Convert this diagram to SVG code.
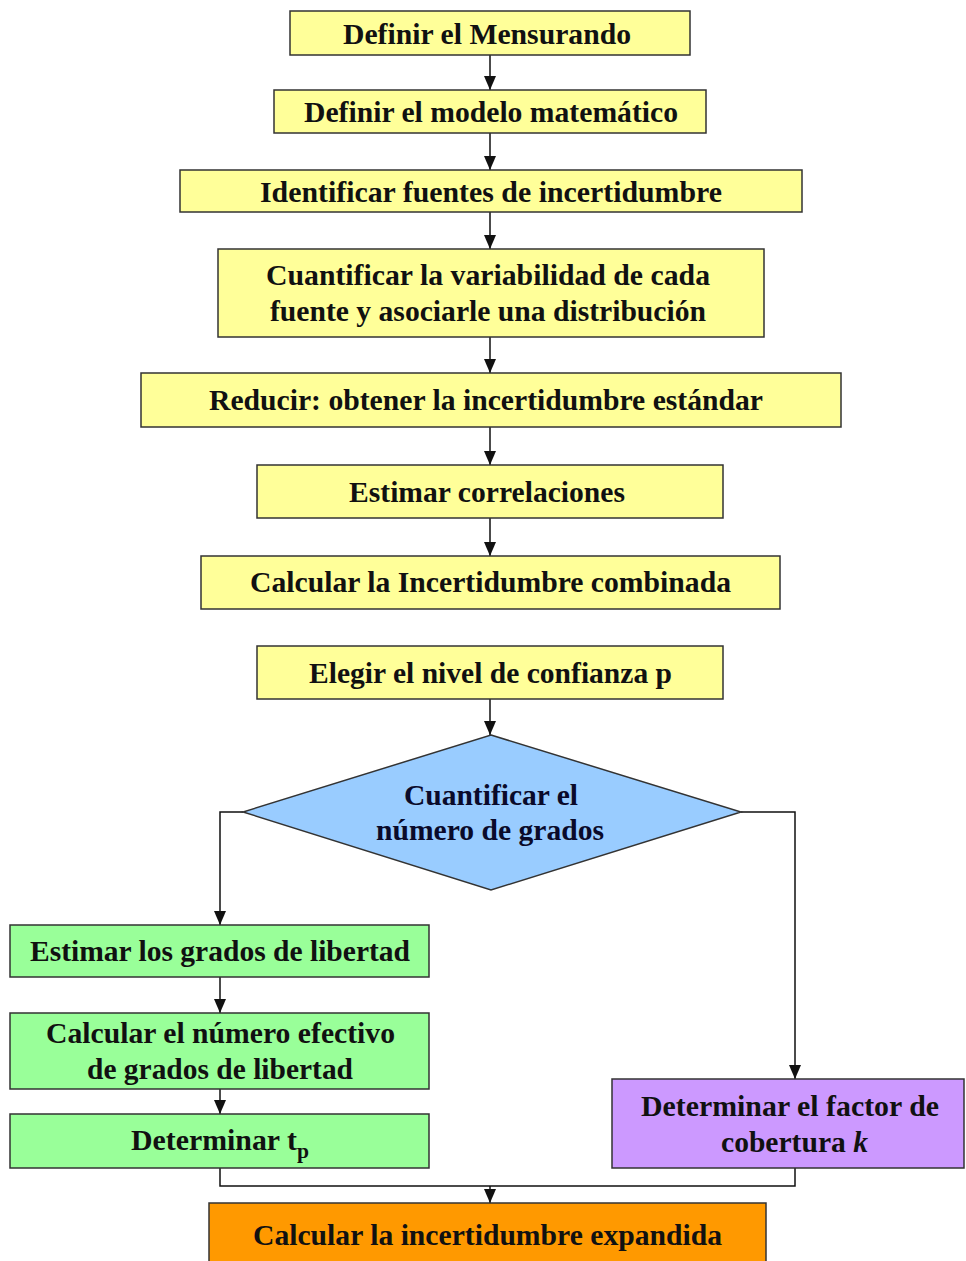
<svg xmlns="http://www.w3.org/2000/svg" width="966" height="1261" viewBox="0 0 966 1261">
<defs>
<marker id="ah" viewBox="0 0 14 12" refX="14" refY="6" markerWidth="14" markerHeight="12" orient="auto" markerUnits="userSpaceOnUse">
<path d="M0,0 L14,6 L0,12 Z" fill="#111"/>
</marker>
<style>
.box{stroke:#333;stroke-width:1.5}
.y{fill:#FFFF99}
.g{fill:#99FF99}
.b{fill:#99CCFF}
.p{fill:#CC99FF}
.o{fill:#FF9900}
.t{font-family:"Liberation Serif","Times New Roman",serif;font-weight:bold;font-size:29px;fill:#111}
.c{fill:none;stroke:#111;stroke-width:1.5}
</style>
</defs>
<rect width="966" height="1261" fill="#fff"/>
<g id="connectors">
<path class="c" d="M490,55 V90" marker-end="url(#ah)"/>
<path class="c" d="M490,133 V170" marker-end="url(#ah)"/>
<path class="c" d="M490,212 V249" marker-end="url(#ah)"/>
<path class="c" d="M490,337 V373" marker-end="url(#ah)"/>
<path class="c" d="M490,427 V465" marker-end="url(#ah)"/>
<path class="c" d="M490,518 V556" marker-end="url(#ah)"/>
<path class="c" d="M490,699 V735" marker-end="url(#ah)"/>
<path class="c" d="M243,812 H220 V925" marker-end="url(#ah)"/>
<path class="c" d="M741,812 H795 V1079" marker-end="url(#ah)"/>
<path class="c" d="M220,977 V1013" marker-end="url(#ah)"/>
<path class="c" d="M220,1089 V1114" marker-end="url(#ah)"/>
<path class="c" d="M220,1168 V1186 H795 V1168"/>
<path class="c" d="M490,1186 V1203" marker-end="url(#ah)"/>
</g>
<g id="n1"><rect class="box y" x="290" y="11" width="400" height="44"/><text class="t" x="343" y="44" textLength="288" lengthAdjust="spacingAndGlyphs">Definir el Mensurando</text></g>
<g id="n2"><rect class="box y" x="274" y="90" width="432" height="43"/><text class="t" x="304" y="122" textLength="374" lengthAdjust="spacingAndGlyphs">Definir el modelo matemático</text></g>
<g id="n3"><rect class="box y" x="180" y="170" width="622" height="42"/><text class="t" x="260" y="202" textLength="462" lengthAdjust="spacingAndGlyphs">Identificar fuentes de incertidumbre</text></g>
<g id="n4"><rect class="box y" x="218" y="249" width="546" height="88"/><text class="t" x="266" y="285" textLength="444" lengthAdjust="spacingAndGlyphs">Cuantificar la variabilidad de cada</text><text class="t" x="270" y="321" textLength="436" lengthAdjust="spacingAndGlyphs">fuente y asociarle una distribución</text></g>
<g id="n5"><rect class="box y" x="141" y="373" width="700" height="54"/><text class="t" x="209" y="410" textLength="554" lengthAdjust="spacingAndGlyphs">Reducir: obtener la incertidumbre estándar</text></g>
<g id="n6"><rect class="box y" x="257" y="465" width="466" height="53"/><text class="t" x="349" y="502" textLength="276" lengthAdjust="spacingAndGlyphs">Estimar correlaciones</text></g>
<g id="n7"><rect class="box y" x="201" y="556" width="579" height="53"/><text class="t" x="250" y="592" textLength="481" lengthAdjust="spacingAndGlyphs">Calcular la Incertidumbre combinada</text></g>
<g id="n8"><rect class="box y" x="257" y="646" width="466" height="53"/><text class="t" x="309" y="683" textLength="363" lengthAdjust="spacingAndGlyphs">Elegir el nivel de confianza p</text></g>
<g id="n9"><polygon class="box b" points="491,735 741,812 491,890 243,812"/><text class="t" x="404" y="805" textLength="174" lengthAdjust="spacingAndGlyphs" style="fill:#0a0a2a">Cuantificar el</text><text class="t" x="376" y="840" textLength="228" lengthAdjust="spacingAndGlyphs" style="fill:#0a0a2a">número de grados</text></g>
<g id="n10"><rect class="box g" x="10" y="925" width="419" height="52"/><text class="t" x="30" y="961" textLength="380" lengthAdjust="spacingAndGlyphs">Estimar los grados de libertad</text></g>
<g id="n11"><rect class="box g" x="10" y="1013" width="419" height="76"/><text class="t" x="46" y="1043" textLength="349" lengthAdjust="spacingAndGlyphs">Calcular el número efectivo</text><text class="t" x="87" y="1079" textLength="266" lengthAdjust="spacingAndGlyphs">de grados de libertad</text></g>
<g id="n12"><rect class="box g" x="10" y="1114" width="419" height="54"/><text class="t" x="131" y="1150" textLength="178" lengthAdjust="spacingAndGlyphs">Determinar t<tspan dy="8" font-size="21">p</tspan></text></g>
<g id="n13"><rect class="box p" x="612" y="1079" width="352" height="89"/><text class="t" x="641" y="1116" textLength="298" lengthAdjust="spacingAndGlyphs">Determinar el factor de</text><text class="t" x="721" y="1152" textLength="147" lengthAdjust="spacingAndGlyphs">cobertura <tspan font-style="italic">k</tspan></text></g>
<g id="n14"><rect class="box o" x="209" y="1203" width="557" height="62"/><text class="t" x="253" y="1245" textLength="469" lengthAdjust="spacingAndGlyphs">Calcular la incertidumbre expandida</text></g>
</svg>
